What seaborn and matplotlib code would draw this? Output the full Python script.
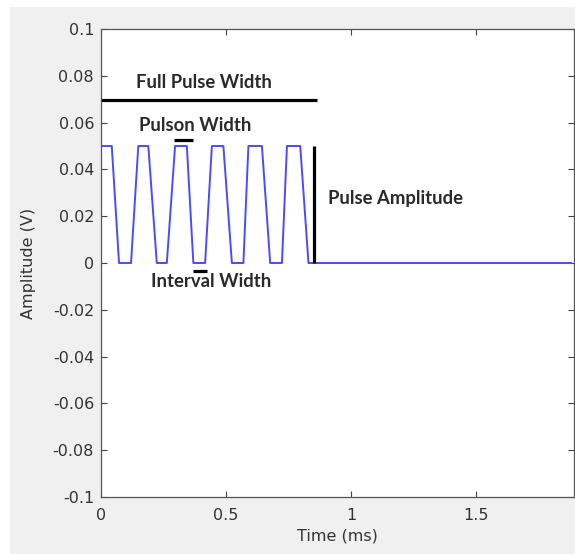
import matplotlib
matplotlib.use("Agg")
import matplotlib.pyplot as plt
import matplotlib.patches as mpatches
import seaborn as sns
import pandas as pd

# waveform breakpoints (time in ms, amplitude in V)
time_ms = [0.000, 0.043, 0.072, 0.120, 0.149, 0.189, 0.223, 0.263, 0.296, 0.343,
           0.369, 0.416, 0.443, 0.489, 0.523, 0.569, 0.589, 0.643, 0.676, 0.723,
           0.743, 0.796, 0.829, 1.880]
amplitude_v = [0.05, 0.05, 0.0, 0.0, 0.05, 0.05, 0.0, 0.0, 0.05, 0.05,
               0.0, 0.0, 0.05, 0.05, 0.0, 0.0, 0.05, 0.05, 0.0, 0.0,
               0.05, 0.05, 0.0, 0.0]

x_ticks = [0, 0.5, 1, 1.5]
x_tick_labels = ["0", "0.5", "1", "1.5"]
y_ticks = [-0.1, -0.08, -0.06, -0.04, -0.02, 0, 0.02, 0.04, 0.06, 0.08, 0.1]
y_tick_labels = ["-0.1", "-0.08", "-0.06", "-0.04", "-0.02", "0",
                 "0.02", "0.04", "0.06", "0.08", "0.1"]

# annotation markers
full_pulse = {"x0": 0.0, "x1": 0.863, "y": 0.0695}
pulson = {"x0": 0.290, "x1": 0.367, "y": 0.0527}
interval = {"x0": 0.367, "x1": 0.425, "y": -0.0033}
amp_line = {"x": 0.853, "y0": 0.0, "y1": 0.05}

labels = ["Full Pulse Width", "Pulson Width", "Interval Width", "Pulse Amplitude"]

sns.set_style("white")
plt.rcParams["font.family"] = ["DejaVu Sans"]

fig = plt.figure(figsize=(5.75, 5.54), dpi=100)
fig.patch.set_facecolor("white")
fig.patches.append(mpatches.Rectangle((10 / 575, 0), 1, (554 - 7) / 554,
                                      transform=fig.transFigure,
                                      facecolor="#f0f0f0", edgecolor="none",
                                      zorder=-10))
ax = fig.add_axes([101 / 575, (554 - 497) / 554, (574 - 101) / 575, (497 - 29) / 554])
ax.set_facecolor("white")

df = pd.DataFrame({"Time (ms)": time_ms, "Amplitude (V)": amplitude_v})
sns.lineplot(data=df, x="Time (ms)", y="Amplitude (V)", ax=ax, sort=False,
             estimator=None, color="#4a4aff", linewidth=1.4)

ax.plot([full_pulse["x0"], full_pulse["x1"]], [full_pulse["y"]] * 2,
        color="black", linewidth=2.3, solid_capstyle="butt")
ax.plot([pulson["x0"], pulson["x1"]], [pulson["y"]] * 2,
        color="black", linewidth=2.3, solid_capstyle="butt")
ax.plot([interval["x0"], interval["x1"]], [interval["y"]] * 2,
        color="black", linewidth=2.3, solid_capstyle="butt")
ax.plot([amp_line["x"]] * 2, [amp_line["y0"], amp_line["y1"]],
        color="black", linewidth=2.3, solid_capstyle="butt")

tfont = dict(family=["Lato", "DejaVu Sans"], fontweight="bold", fontsize=13.3,
             color="#2a2a2a")
ax.text(0.413, 0.0772, labels[0], ha="center", va="center", **tfont)
ax.text(0.378, 0.0587, labels[1], ha="center", va="center", **tfont)
ax.text(0.440, -0.0080, labels[2], ha="center", va="center", **tfont)
ax.text(0.909, 0.0277, labels[3], ha="left", va="center", **tfont)

ax.set_xlim(0, 1.89)
ax.set_ylim(-0.1, 0.1)
ax.set_xticks(x_ticks)
ax.set_xticklabels(x_tick_labels)
ax.set_yticks(y_ticks)
ax.set_yticklabels(y_tick_labels)
ax.tick_params(direction="in", length=4, width=0.8, color="#444444",
               top=True, right=True, bottom=True, left=True,
               labelsize=11.5, labelcolor="#333333", pad=5)
ax.tick_params(axis="x", pad=8)
for s in ax.spines.values():
    s.set_visible(True)
    s.set_color("#555555")
    s.set_linewidth(0.9)

ax.set_xlabel("Time (ms)", fontsize=11.5, color="#333333", labelpad=4)
ax.set_ylabel("Amplitude (V)", fontsize=11.5, color="#333333", labelpad=12)

fig.savefig("out.png", dpi=100)
